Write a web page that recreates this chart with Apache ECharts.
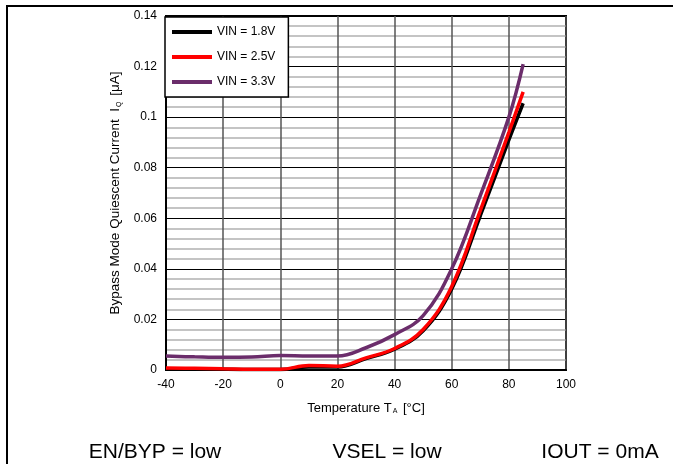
<!DOCTYPE html>
<html><head><meta charset="utf-8">
<script src="https://cdn.jsdelivr.net/npm/echarts@6/dist/echarts.min.js"></script>
<style>html,body{margin:0;padding:0;background:#fff}#c{width:673px;height:464px}</style>
</head><body><div id="c"></div>
<script>
const temps = [-40,-30,-20,-10,0,10,20,30,40,50,60,70,80,85];
const vin18 = [0.0005,0.0005,0.0003,0.0002,0.0002,0.0012,0.0012,0.0045,0.0082,0.0155,0.032,0.061,0.091,0.1055];
const vin25 = [0.0008,0.0007,0.0005,0.0003,0.0003,0.0018,0.0015,0.0048,0.0085,0.016,0.033,0.063,0.094,0.110];
const vin33 = [0.0055,0.0052,0.0050,0.0051,0.0057,0.0055,0.0055,0.0088,0.014,0.0215,0.040,0.069,0.100,0.121];
const seriesNames = ['VIN = 1.8V','VIN = 2.5V','VIN = 3.3V'];
const seriesColors = ['#000000','#ff0000','#6b2d6b'];
const seriesData = [vin18, vin25, vin33];
const footTexts = ['EN/BYP = low','VSEL = low','IOUT = 0mA'];
const footX = [155, 387, 600];

const chart = echarts.init(document.getElementById('c'));
const font = 'Liberation Sans, Arial, sans-serif';
chart.setOption({
  animation:false,
  textStyle:{fontFamily:font},
  grid:{left:166,right:107,top:16,bottom:94,show:true,borderColor:'#000',borderWidth:2,backgroundColor:'transparent'},
  legend:{
    orient:'vertical',left:165,top:17,
    backgroundColor:'#fff',borderColor:'#000',borderWidth:1.5,borderRadius:0,
    padding:[9,13,9,7],itemGap:13,itemWidth:40,itemHeight:4,
    textStyle:{fontSize:12,color:'#000',fontFamily:font},
    data:seriesNames.map(n=>({name:n,icon:'rect'}))
  },
  xAxis:{
    type:'value',min:-40,max:100,interval:20,
    axisLine:{lineStyle:{color:'#000',width:2}},
    axisTick:{show:false},
    axisLabel:{fontSize:12,color:'#000',margin:9},
    splitLine:{lineStyle:{color:'#555',width:1.5}},
    name:'{n|Temperature T}{s|A}{n| [°C]}',nameLocation:'middle',nameGap:32,
    nameTextStyle:{rich:{n:{fontSize:13,color:'#000',fontFamily:font},s:{fontSize:7,color:'#000',padding:[6,2,0,1],fontFamily:font}}}
  },
  yAxis:{
    type:'value',min:0,max:0.14,interval:0.02,
    axisLine:{show:true,onZero:false,lineStyle:{color:'#000',width:2}},
    axisTick:{show:false},
    axisLabel:{fontSize:12,color:'#000',margin:9},
    splitLine:{lineStyle:{color:'#000',width:1}},
    minorTick:{show:false,splitNumber:5},
    minorSplitLine:{show:true,lineStyle:{color:'#c4c4c4',width:2}},
    name:'{n|Bypass Mode Quiescent Current  I}{s|Q}{n| [μA]}',nameLocation:'middle',nameGap:42,
    nameTextStyle:{rich:{n:{fontSize:13.5,color:'#000',fontFamily:font},s:{fontSize:7,color:'#000',padding:[6,2,0,1],fontFamily:font}}}
  },
  series:seriesData.map((d,i)=>({
    name:seriesNames[i],type:'line',smooth:0.4,showSymbol:false,
    data:temps.map((t,j)=>[t,d[j]]),
    lineStyle:{color:seriesColors[i],width:3.5},
    itemStyle:{color:seriesColors[i]},
    z:2+i
  })),
  graphic:[
    {type:'polyline',shape:{points:[[7,464],[7,6],[673,6]]},style:{stroke:'#000',lineWidth:2,fill:null},z:100},
    ...footTexts.map((t,i)=>({type:'text',x:footX[i],y:452,style:{text:t,fontSize:21,fontFamily:font,fill:'#000',textAlign:'center',textVerticalAlign:'middle'}}))
  ]
});
</script></body></html>
